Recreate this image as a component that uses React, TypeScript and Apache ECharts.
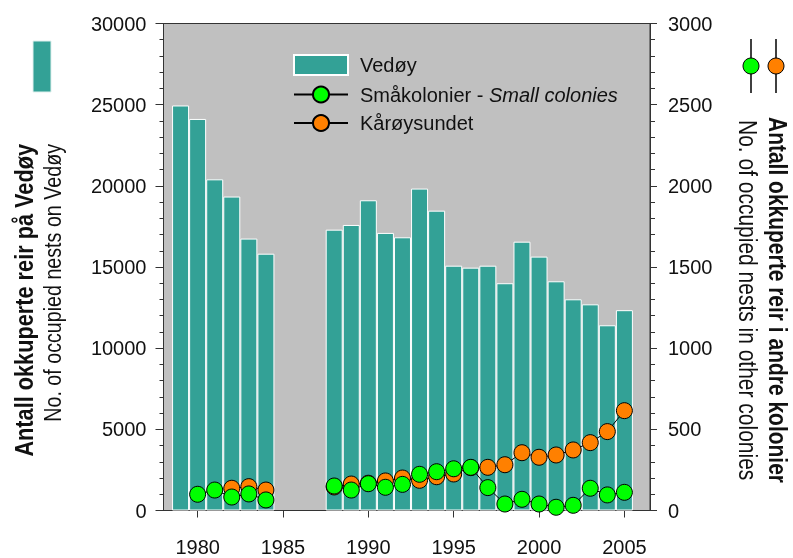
import React, { useEffect, useRef } from 'react';
import * as echarts from 'echarts';

const years = [1979, 1980, 1981, 1982, 1983, 1984, 1985, 1986, 1987, 1988, 1989, 1990, 1991, 1992, 1993, 1994, 1995, 1996, 1997, 1998, 1999, 2000, 2001, 2002, 2003, 2004, 2005];
const vedoy = [24950, 24120, 20400, 19340, 16750, 15820, null, null, null, 17300, 17590, 19110, 17100, 16830, 19830, 18470, 15080, 14960, 15080, 14000, 16560, 15640, 14120, 13010, 12700, 11410, 12340];
const smakolonier = [null, 100, 126, 83, 102, 65, null, null, null, 151, 126, 165, 143, 161, 223, 239, 257, 266, 141, 40, 69, 40, 20, 32, 137, 96, 112];
const karoysundet = [null, null, null, 137, 147, 126, null, null, null, 145, 163, 168, 182, 200, 186, 208, 225, 264, 266, 282, 356, 328, 342, 373, 418, 486, 615];
const xTicks = [1980, 1985, 1990, 1995, 2000, 2005];

const FONT = '"Liberation Sans", Arial, sans-serif';
const TEAL = '#33A196';
const GREEN = '#00FF00';
const ORANGE = '#FF8000';
const TXT = '#111111';
const NARROW = 0.82;

const pairs = (vals: (number | null)[]) => years.map((y, i) => [y, vals[i] == null ? '-' : vals[i]]);

export default function App() {
  const ref = useRef<HTMLDivElement>(null);
  useEffect(() => {
    const chart = echarts.init(ref.current!, null, { renderer: 'svg' });
    const axisLineStyle = { color: '#333', width: 1 };
    const plain = (v: number) => String(v);
    chart.setOption({
      animation: false,
      grid: {
        left: 163.5, right: 143, top: 23.5, bottom: 47.5,
        show: true, backgroundColor: '#C0C0C0', borderColor: '#333', borderWidth: 1,
      },
      legend: {
        orient: 'vertical', left: 293, top: 54, padding: 0,
        itemWidth: 54, itemHeight: 20, itemGap: 8.5,
        selectedMode: false,
        data: [{ name: 'Vedøy', icon: 'rect' }, { name: 'Småkolonier' }, { name: 'Kårøysundet' }],
        formatter: (n: string) => (n === 'Småkolonier' ? 'Småkolonier - {i|Small colonies}' : n),
        textStyle: {
          fontFamily: FONT, fontSize: 20, color: TXT, lineHeight: 20, padding: [0, 0, 0, 7],
          rich: { i: { fontStyle: 'italic', fontFamily: FONT, fontSize: 20, color: TXT, lineHeight: 20 } },
        },
      },
      xAxis: {
        type: 'value', min: 1978, max: 2006.5,
        axisLine: { show: true, lineStyle: axisLineStyle },
        axisTick: { show: true, length: 7, customValues: xTicks, lineStyle: axisLineStyle },
        axisLabel: { customValues: xTicks, fontFamily: FONT, fontSize: 20, color: TXT, margin: 26, formatter: plain },
        splitLine: { show: false },
      },
      yAxis: [
        {
          type: 'value', min: 0, max: 30000, interval: 5000, position: 'left',
          axisLine: { show: true, lineStyle: axisLineStyle },
          axisTick: { show: true, length: 8, lineStyle: axisLineStyle },
          minorTick: { show: true, splitNumber: 5, length: 4, lineStyle: axisLineStyle },
          axisLabel: { fontFamily: FONT, fontSize: 20, color: TXT, margin: 17, formatter: plain },
          splitLine: { show: false },
        },
        {
          type: 'value', min: 0, max: 3000, interval: 500, position: 'right',
          axisLine: { show: true, lineStyle: axisLineStyle },
          axisTick: { show: true, length: 7, lineStyle: axisLineStyle },
          minorTick: { show: true, splitNumber: 5, length: 5, lineStyle: axisLineStyle },
          axisLabel: { fontFamily: FONT, fontSize: 20, color: TXT, margin: 18, formatter: plain },
          splitLine: { show: false },
        },
      ],
      series: [
        {
          name: 'Vedøy', type: 'bar', yAxisIndex: 0, barWidth: 17,
          data: pairs(vedoy),
          itemStyle: { color: TEAL, borderColor: '#FFFFFF', borderWidth: 1 },
        },
        {
          name: 'Kårøysundet', type: 'line', yAxisIndex: 1, data: pairs(karoysundet),
          symbol: 'circle', symbolSize: 16, connectNulls: false,
          lineStyle: { color: '#000', width: 1 },
          itemStyle: { color: ORANGE, borderColor: '#000', borderWidth: 1 },
        },
        {
          name: 'Småkolonier', type: 'line', yAxisIndex: 1, data: pairs(smakolonier),
          symbol: 'circle', symbolSize: 16, connectNulls: false,
          lineStyle: { color: '#000', width: 1 },
          itemStyle: { color: GREEN, borderColor: '#000', borderWidth: 1 },
        },
      ],
      graphic: [
        { type: 'rect', shape: { x: 33, y: 41, width: 18, height: 51 }, style: { fill: TEAL, stroke: '#E0F0EE', lineWidth: 1 } },
        { type: 'line', shape: { x1: 751, y1: 39, x2: 751, y2: 93 }, style: { stroke: '#000', lineWidth: 1.5 } },
        { type: 'circle', shape: { cx: 751, cy: 66, r: 8 }, style: { fill: GREEN, stroke: '#000', lineWidth: 1 } },
        { type: 'line', shape: { x1: 776, y1: 39, x2: 776, y2: 93 }, style: { stroke: '#000', lineWidth: 1.5 } },
        { type: 'circle', shape: { cx: 776, cy: 66, r: 8 }, style: { fill: ORANGE, stroke: '#000', lineWidth: 1 } },
        {
          type: 'text', x: 24, y: 144, rotation: Math.PI / 2, scaleX: NARROW,
          style: { text: 'Antall okkuperte reir på Vedøy', fontFamily: FONT, fontSize: 26.5, fontWeight: 'bold', fill: TXT, align: 'right', verticalAlign: 'middle' },
        },
        {
          type: 'text', x: 53, y: 144, rotation: Math.PI / 2, scaleX: NARROW,
          style: { text: 'No. of occupied nests on Vedøy', fontFamily: FONT, fontSize: 24, fill: TXT, align: 'right', verticalAlign: 'middle' },
        },
        {
          type: 'text', x: 778, y: 117, rotation: -Math.PI / 2, scaleX: NARROW,
          style: { text: 'Antall okkuperte reir i andre kolonier', fontFamily: FONT, fontSize: 25.6, fontWeight: 'bold', fill: TXT, align: 'left', verticalAlign: 'middle' },
        },
        {
          type: 'text', x: 748, y: 120, rotation: -Math.PI / 2, scaleX: NARROW,
          style: { text: 'No. of occupied nests in other colonies', fontFamily: FONT, fontSize: 25.6, fill: TXT, align: 'left', verticalAlign: 'middle' },
        },
      ],
    });
    return () => chart.dispose();
  }, []);
  return <div ref={ref} style={{ position: 'fixed', left: 0, top: 0, width: 793, height: 558 }} />;
}
